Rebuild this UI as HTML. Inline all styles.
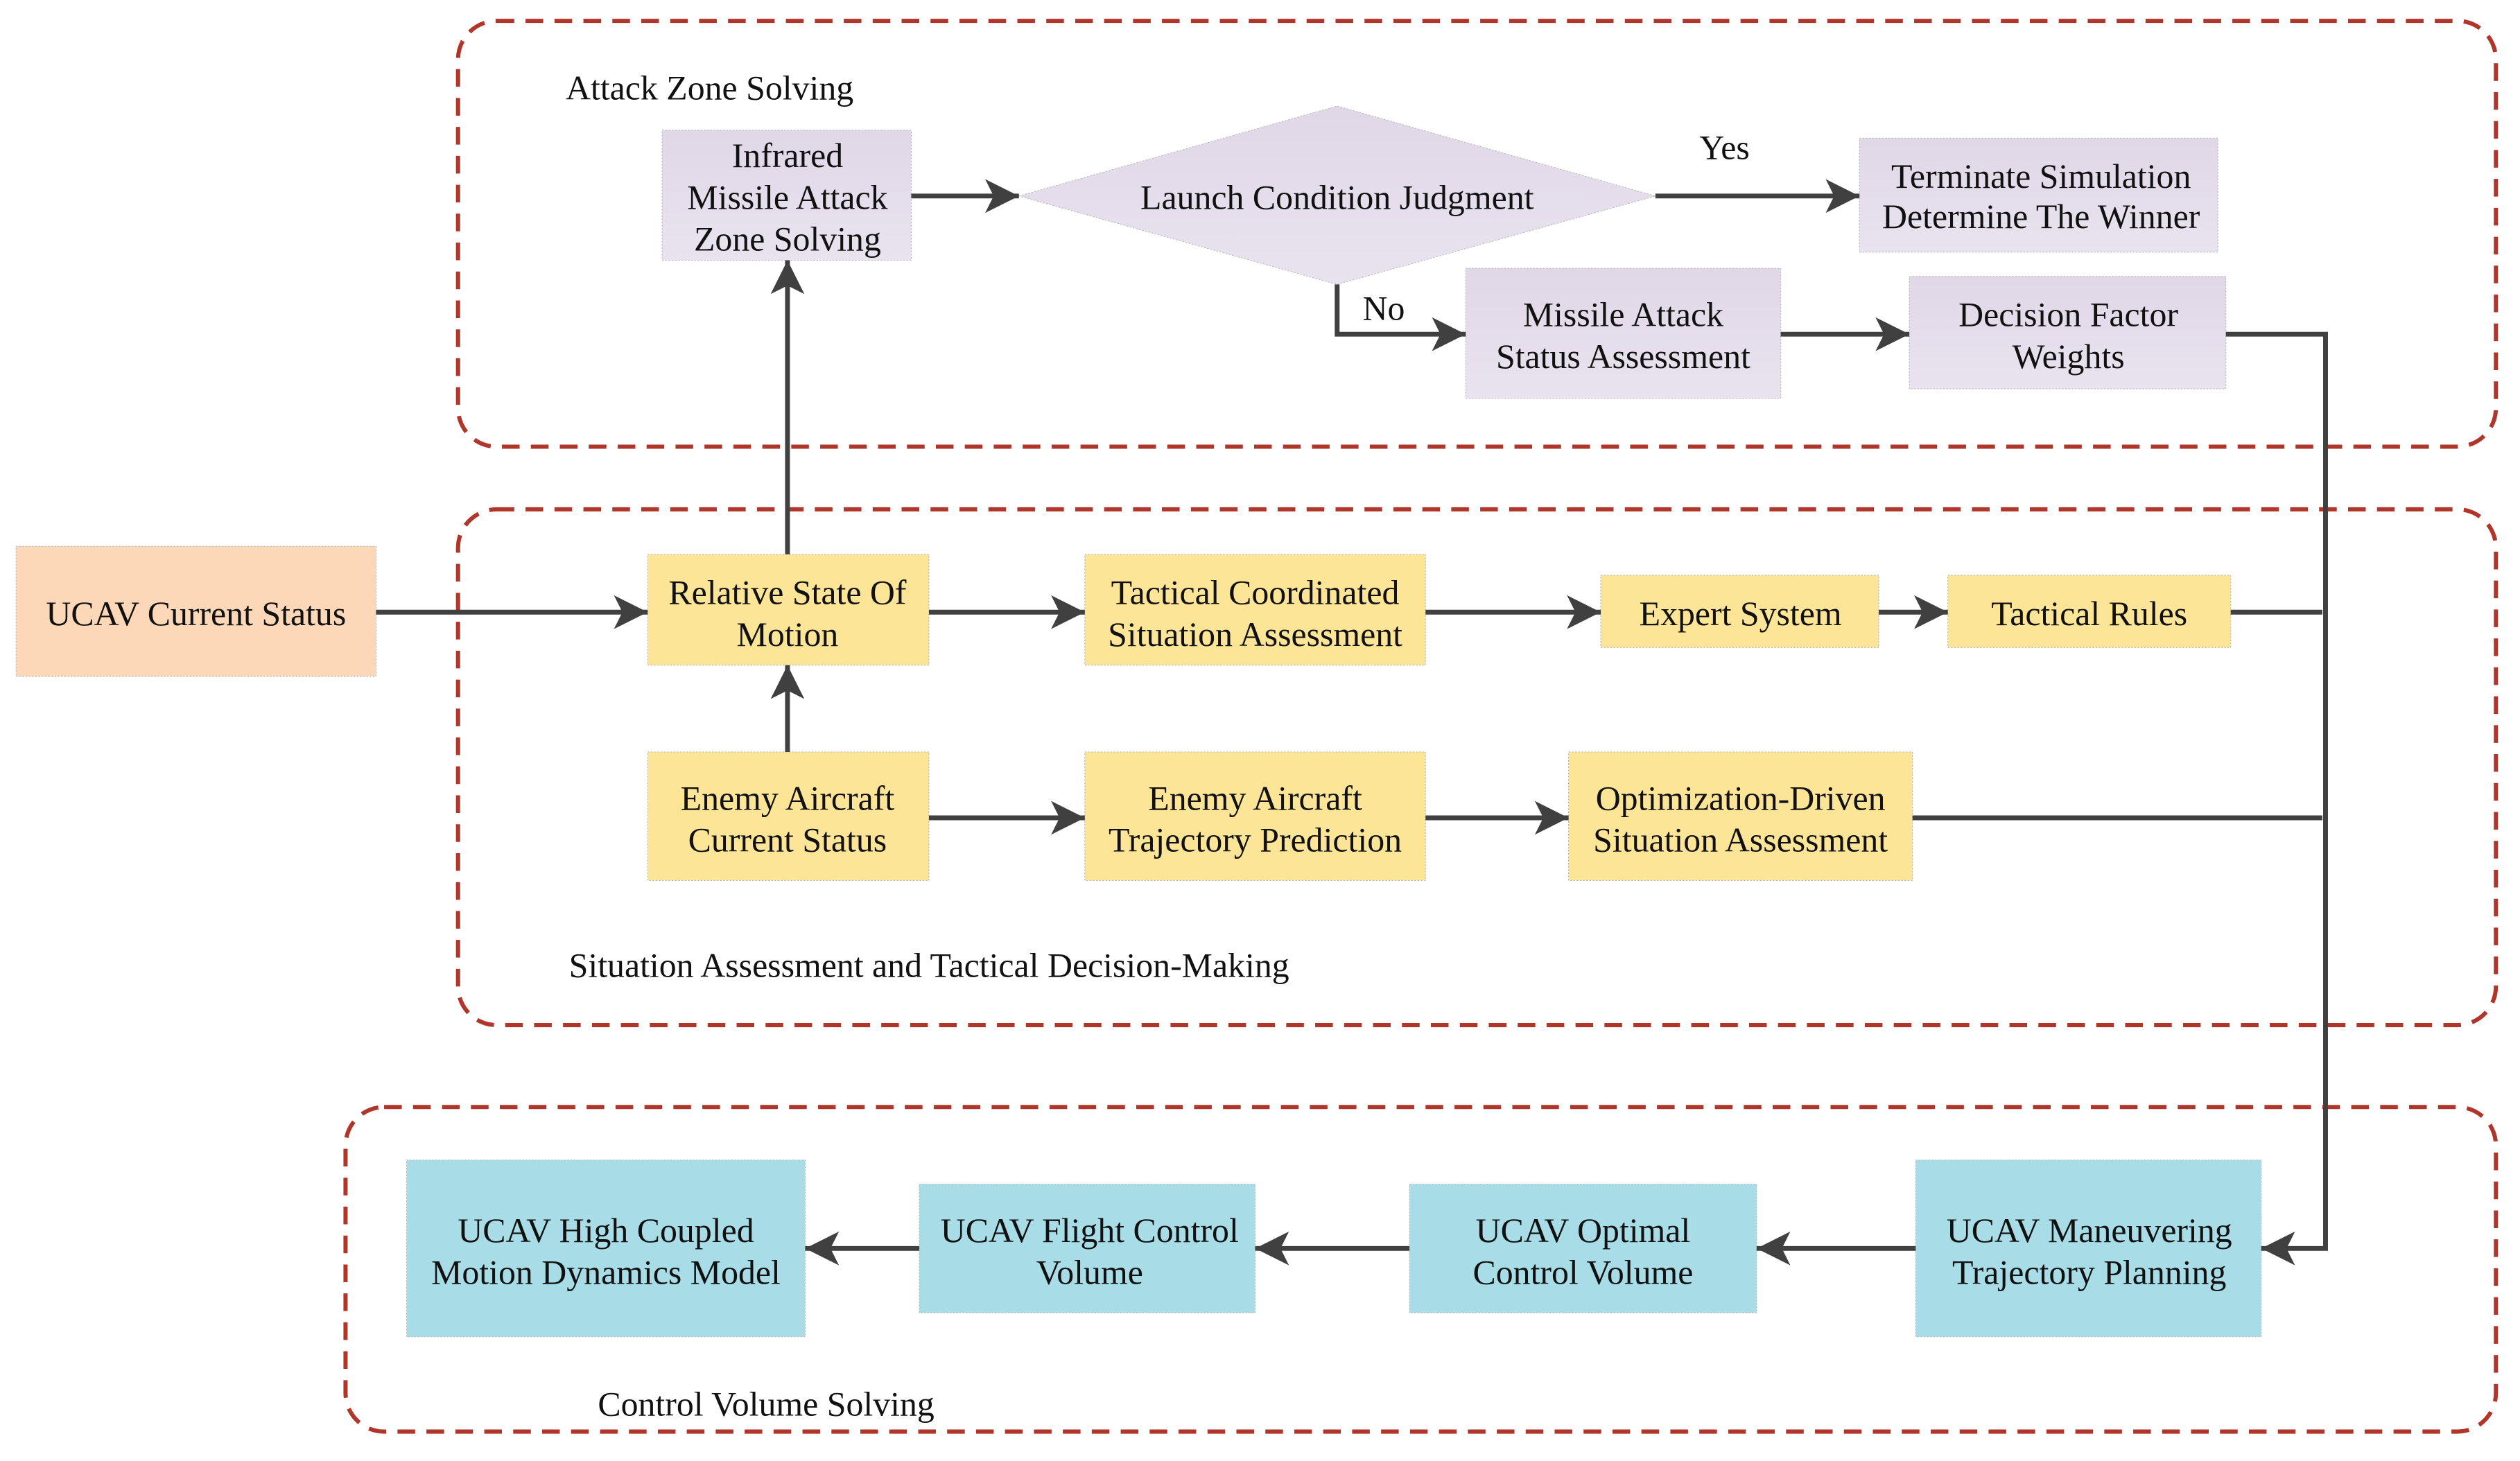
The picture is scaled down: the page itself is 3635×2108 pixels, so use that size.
<!DOCTYPE html>
<html><head><meta charset="utf-8"><style>html,body{margin:0;padding:0;background:#fff}svg{display:block}</style></head><body>
<svg width="3635" height="2108" viewBox="0 0 1568 909.3" preserveAspectRatio="none" xmlns="http://www.w3.org/2000/svg" font-family="'Liberation Serif', serif" font-size="21.5" fill="#111">
<defs>
<marker id="a" viewBox="0 0 10 10" refX="10" refY="5" markerWidth="7" markerHeight="7" orient="auto" markerUnits="strokeWidth"><path d="M0,0 L10,5 L0,10 L2.5,5 z" fill="#404040"/></marker>
<linearGradient id="p" x1="0" y1="0" x2="0" y2="1"><stop offset="0" stop-color="#e0d7e7"/><stop offset="1" stop-color="#e9e3ef"/></linearGradient>
</defs>
<g fill="none" stroke="#b0362c" stroke-width="2.6" stroke-dasharray="11,7">
<rect x="285" y="13" width="1268" height="265" rx="24"/>
<rect x="285" y="317" width="1268" height="321" rx="24"/>
<rect x="215" y="689" width="1338" height="202" rx="24"/>
</g>
<g font-size="21.5">
<text x="352" y="62">Attack Zone Solving</text>
<text x="354" y="608">Situation Assessment and Tactical Decision-Making</text>
<text x="372" y="881">Control Volume Solving</text>
</g>
<g stroke="#bbb" stroke-width="0.5" stroke-dasharray="1,1">
<rect x="412" y="81" width="155" height="81" fill="url(#p)"/>
<polygon points="634,122 832,66 1030,122 832,177" fill="url(#p)"/>
<rect x="1157" y="86" width="223" height="71" fill="url(#p)"/>
<rect x="912" y="167" width="196" height="81" fill="url(#p)"/>
<rect x="1188" y="172" width="197" height="70" fill="url(#p)"/>
<rect x="403" y="345" width="175" height="69" fill="#fde598"/>
<rect x="675" y="345" width="212" height="69" fill="#fde598"/>
<rect x="996" y="358" width="173" height="45" fill="#fde598"/>
<rect x="1212" y="358" width="176" height="45" fill="#fde598"/>
<rect x="403" y="468" width="175" height="80" fill="#fde598"/>
<rect x="675" y="468" width="212" height="80" fill="#fde598"/>
<rect x="976" y="468" width="214" height="80" fill="#fde598"/>
<rect x="10" y="340" width="224" height="81" fill="#fdd8b8"/>
<rect x="253" y="722" width="248" height="110" fill="#a8dde8"/>
<rect x="572" y="737" width="209" height="80" fill="#a8dde8"/>
<rect x="877" y="737" width="216" height="80" fill="#a8dde8"/>
<rect x="1192" y="722" width="215" height="110" fill="#a8dde8"/>
</g>
<g text-anchor="middle">
<text x="490" y="104">Infrared</text><text x="490" y="130">Missile Attack</text><text x="490" y="156">Zone Solving</text>
<text x="832" y="130">Launch Condition Judgment</text>
<text x="1270" y="117">Terminate Simulation</text><text x="1270" y="142">Determine The Winner</text>
<text x="1010" y="203">Missile Attack</text><text x="1010" y="229">Status Assessment</text>
<text x="1287" y="203">Decision Factor</text><text x="1287" y="229">Weights</text>
<text x="490" y="376">Relative State Of</text><text x="490" y="402">Motion</text>
<text x="781" y="376">Tactical Coordinated</text><text x="781" y="402">Situation Assessment</text>
<text x="1083" y="389">Expert System</text>
<text x="1300" y="389">Tactical Rules</text>
<text x="490" y="504">Enemy Aircraft</text><text x="490" y="530">Current Status</text>
<text x="781" y="504">Enemy Aircraft</text><text x="781" y="530">Trajectory Prediction</text>
<text x="1083" y="504">Optimization-Driven</text><text x="1083" y="530">Situation Assessment</text>
<text x="122" y="389">UCAV Current Status</text>
<text x="377" y="773">UCAV High Coupled</text><text x="377" y="799">Motion Dynamics Model</text>
<text x="678" y="773">UCAV Flight Control</text><text x="678" y="799">Volume</text>
<text x="985" y="773">UCAV Optimal</text><text x="985" y="799">Control Volume</text>
<text x="1300" y="773">UCAV Maneuvering</text><text x="1300" y="799">Trajectory Planning</text>
<text x="1073" y="99">Yes</text>
<text x="861" y="199">No</text>
</g>
<g fill="none" stroke="#404040" stroke-width="3">
<path d="M234,381 H403" marker-end="url(#a)"/>
<path d="M490,345 V162" marker-end="url(#a)"/>
<path d="M490,468 V414" marker-end="url(#a)"/>
<path d="M567,122 H634" marker-end="url(#a)"/>
<path d="M1030,122 H1157" marker-end="url(#a)"/>
<path d="M832,177 V208 H912" marker-end="url(#a)"/>
<path d="M1108,208 H1188" marker-end="url(#a)"/>
<path d="M1385,208 H1447 V777 H1407" marker-end="url(#a)"/>
<path d="M1388,381 H1445"/>
<path d="M1190,509 H1445"/>
<path d="M578,381 H675" marker-end="url(#a)"/>
<path d="M887,381 H996" marker-end="url(#a)"/>
<path d="M1169,381 H1212" marker-end="url(#a)"/>
<path d="M578,509 H675" marker-end="url(#a)"/>
<path d="M887,509 H976" marker-end="url(#a)"/>
<path d="M1192,777 H1093" marker-end="url(#a)"/>
<path d="M877,777 H781" marker-end="url(#a)"/>
<path d="M572,777 H501" marker-end="url(#a)"/>
</g>
</svg>
</body></html>
